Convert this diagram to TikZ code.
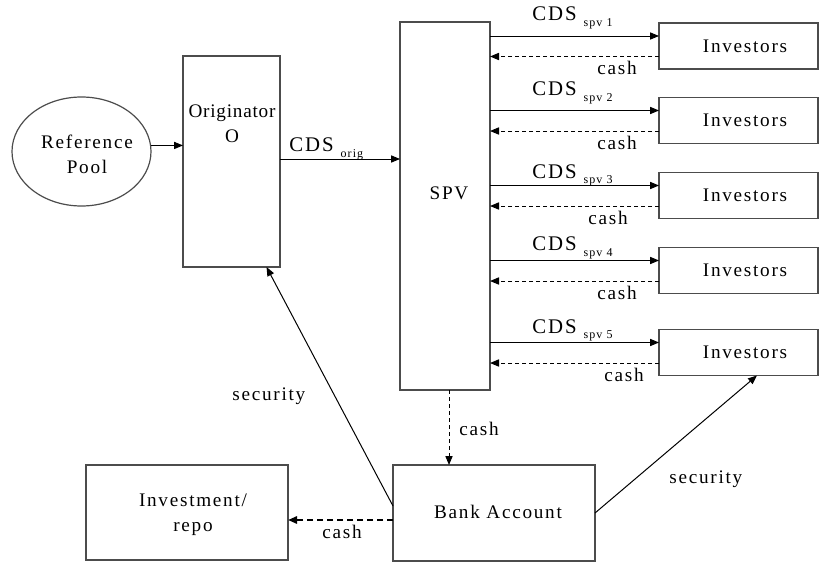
\documentclass[tikz,border=0pt]{standalone}
\usepackage{fontspec}
\setmainfont{Liberation Serif}[LetterSpace=9]
\usetikzlibrary{arrows.meta,shapes.geometric}

\newcommand{\cdslabel}[1]{CDS\hspace{3.5pt}\raisebox{-2.8pt}{\fontsize{6}{7}\selectfont #1}}

\begin{document}
\begin{tikzpicture}[x=0.5pt,y=-0.5pt,
    >={Triangle[length=4.5pt,width=3.6pt]},
    box/.style={draw=black!70,line width=0.6pt,inner sep=0pt,outer sep=0pt},
    txt/.style={font=\fontsize{9.6}{12.5}\selectfont,inner sep=0pt,align=center},
    cdstxt/.style={font=\fontsize{10.4}{12}\selectfont,inner sep=0pt,anchor=base west},
    lbl/.style={font=\fontsize{9.6}{12}\selectfont,inner sep=0pt,anchor=base west},
    flow/.style={->,line width=0.5pt},
    cashflow/.style={->,line width=0.5pt,dash pattern=on 2pt off 1.5pt},
    bigcash/.style={->,line width=1.1pt,dash pattern=on 3pt off 2pt}]
    \useasboundingbox (0,0) rectangle (819,562);
    % left side
    \node[box,ellipse,minimum width=69.5pt,minimum height=54.5pt] (pool) at (81.5,151.5) {};
    \node[txt] (pooltxt) at (87,154) {Reference\\Pool};
    \node[box,minimum width=48.5pt,minimum height=105.5pt] (orig) at (231.5,161.5) {};
    \node[txt] (origtxt) at (232,124) {\addfontfeature{LetterSpace=4}Originator\\O};
    \node[box,minimum width=45pt,minimum height=184pt] (spv) at (445,206) {};
    \node[txt] (spvtxt) at (449,193) {SPV};
    \draw[flow] (pool.5) -- (pool.5 -| orig.west);
    \draw[flow] (orig.east |- 0,159) -- (spv.west |- 0,159);
    \node[cdstxt] (cdsorig) at (289,151.7) {\cdslabel{orig}};
    % investors
    \foreach \i/\y/\cy/\kx/\ky in {1/46/20.7/597/74, 2/120.5/95.7/597/149, 3/195.5/178.3/588/224, 4/270.5/250.7/597/299, 5/352.5/333.3/604/381} {
        \node[box,minimum width=79.5pt,minimum height=23pt] (inv\i) at (738.5,\y) {};
        \node[txt] (invtxt\i) at (745,\y) {Investors};
        \coordinate (cin\i) at ([yshift=5pt]inv\i.west);
        \coordinate (cout\i) at ([yshift=-5.25pt]inv\i.west);
        \draw[flow] (cin\i -| spv.east) -- (cin\i);
        \draw[cashflow] (cout\i) -- (cout\i -| spv.east);
        \node[cdstxt] (cds\i) at (532,\cy) {\cdslabel{spv \i}};
        \node[lbl] (cash\i) at (\kx,\ky) {cash};
    }
    % bottom
    \node[box,minimum width=101pt,minimum height=48pt] (bank) at (494,513) {};
    \node[txt] (banktxt) at (498,512) {Bank Account};
    \node[box,minimum width=101pt,minimum height=47.5pt] (invest) at (187,512.5) {};
    \node[txt] (investtxt) at (193,515) {Investment/\\repo};
    \coordinate (spvout) at ([xshift=2pt]spv.south);
    \draw[cashflow] (spvout) -- (spvout |- bank.north);
    \node[lbl] (cashbank) at (459,435) {cash};
    \coordinate (bankcash) at ([yshift=-3.5pt]bank.west);
    \draw[bigcash] (bankcash) -- (bankcash -| invest.east);
    \node[lbl] (cashinvest) at (322,538) {cash};
    \coordinate (banksec) at ([yshift=3.5pt]bank.west);
    \draw[flow] (banksec) -- ([xshift=17.5pt]orig.south);
    \node[lbl] (secorig) at (232,400) {security};
    \draw[flow] (bank.east) -- ([xshift=9.25pt]inv5.south);
    \node[lbl] (secinv) at (669,483) {security};
\end{tikzpicture}
\end{document}
